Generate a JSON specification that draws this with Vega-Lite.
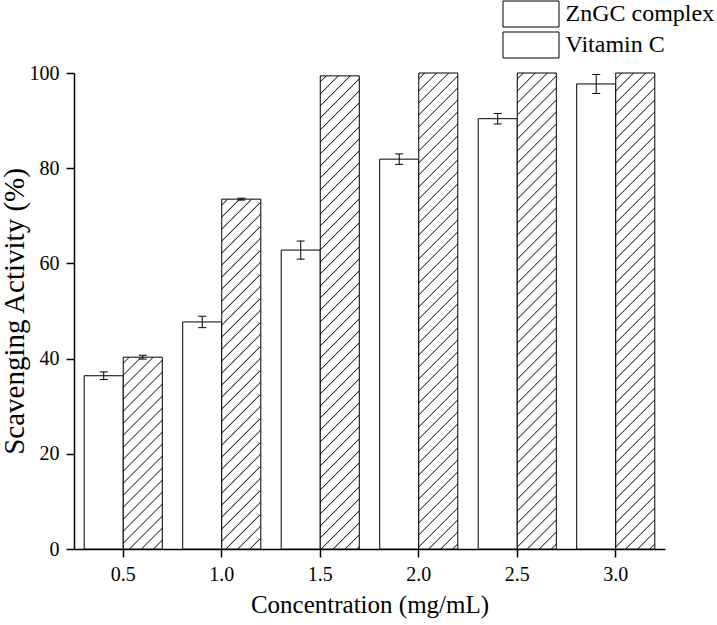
{
  "$schema": "https://vega.github.io/schema/vega-lite/v6.json",
  "autosize": "none",
  "width": 591,
  "height": 476,
  "padding": {"left": 74, "top": 73, "right": 52, "bottom": 76},
  "background": "white",
  "params": [
    {"name": "hatch", "value": [
      {"offset":0.008,"color":"#fff"},{"offset":0.01,"color":"#222"},{"offset":0.012,"color":"#fff"},
      {"offset":0.028,"color":"#fff"},{"offset":0.03,"color":"#222"},{"offset":0.032,"color":"#fff"},
      {"offset":0.048,"color":"#fff"},{"offset":0.05,"color":"#222"},{"offset":0.052,"color":"#fff"},
      {"offset":0.068,"color":"#fff"},{"offset":0.07,"color":"#222"},{"offset":0.072,"color":"#fff"},
      {"offset":0.088,"color":"#fff"},{"offset":0.09,"color":"#222"},{"offset":0.092,"color":"#fff"},
      {"offset":0.108,"color":"#fff"},{"offset":0.11,"color":"#222"},{"offset":0.112,"color":"#fff"},
      {"offset":0.128,"color":"#fff"},{"offset":0.13,"color":"#222"},{"offset":0.132,"color":"#fff"},
      {"offset":0.148,"color":"#fff"},{"offset":0.15,"color":"#222"},{"offset":0.152,"color":"#fff"},
      {"offset":0.168,"color":"#fff"},{"offset":0.17,"color":"#222"},{"offset":0.172,"color":"#fff"},
      {"offset":0.188,"color":"#fff"},{"offset":0.19,"color":"#222"},{"offset":0.192,"color":"#fff"},
      {"offset":0.208,"color":"#fff"},{"offset":0.21,"color":"#222"},{"offset":0.212,"color":"#fff"},
      {"offset":0.228,"color":"#fff"},{"offset":0.23,"color":"#222"},{"offset":0.232,"color":"#fff"},
      {"offset":0.248,"color":"#fff"},{"offset":0.25,"color":"#222"},{"offset":0.252,"color":"#fff"},
      {"offset":0.268,"color":"#fff"},{"offset":0.27,"color":"#222"},{"offset":0.272,"color":"#fff"},
      {"offset":0.288,"color":"#fff"},{"offset":0.29,"color":"#222"},{"offset":0.292,"color":"#fff"},
      {"offset":0.308,"color":"#fff"},{"offset":0.31,"color":"#222"},{"offset":0.312,"color":"#fff"},
      {"offset":0.328,"color":"#fff"},{"offset":0.33,"color":"#222"},{"offset":0.332,"color":"#fff"},
      {"offset":0.348,"color":"#fff"},{"offset":0.35,"color":"#222"},{"offset":0.352,"color":"#fff"},
      {"offset":0.368,"color":"#fff"},{"offset":0.37,"color":"#222"},{"offset":0.372,"color":"#fff"},
      {"offset":0.388,"color":"#fff"},{"offset":0.39,"color":"#222"},{"offset":0.392,"color":"#fff"},
      {"offset":0.408,"color":"#fff"},{"offset":0.41,"color":"#222"},{"offset":0.412,"color":"#fff"},
      {"offset":0.428,"color":"#fff"},{"offset":0.43,"color":"#222"},{"offset":0.432,"color":"#fff"},
      {"offset":0.448,"color":"#fff"},{"offset":0.45,"color":"#222"},{"offset":0.452,"color":"#fff"},
      {"offset":0.468,"color":"#fff"},{"offset":0.47,"color":"#222"},{"offset":0.472,"color":"#fff"},
      {"offset":0.488,"color":"#fff"},{"offset":0.49,"color":"#222"},{"offset":0.492,"color":"#fff"},
      {"offset":0.508,"color":"#fff"},{"offset":0.51,"color":"#222"},{"offset":0.512,"color":"#fff"},
      {"offset":0.528,"color":"#fff"},{"offset":0.53,"color":"#222"},{"offset":0.532,"color":"#fff"},
      {"offset":0.548,"color":"#fff"},{"offset":0.55,"color":"#222"},{"offset":0.552,"color":"#fff"},
      {"offset":0.568,"color":"#fff"},{"offset":0.57,"color":"#222"},{"offset":0.572,"color":"#fff"},
      {"offset":0.588,"color":"#fff"},{"offset":0.59,"color":"#222"},{"offset":0.592,"color":"#fff"},
      {"offset":0.608,"color":"#fff"},{"offset":0.61,"color":"#222"},{"offset":0.612,"color":"#fff"},
      {"offset":0.628,"color":"#fff"},{"offset":0.63,"color":"#222"},{"offset":0.632,"color":"#fff"},
      {"offset":0.648,"color":"#fff"},{"offset":0.65,"color":"#222"},{"offset":0.652,"color":"#fff"},
      {"offset":0.668,"color":"#fff"},{"offset":0.67,"color":"#222"},{"offset":0.672,"color":"#fff"},
      {"offset":0.688,"color":"#fff"},{"offset":0.69,"color":"#222"},{"offset":0.692,"color":"#fff"},
      {"offset":0.708,"color":"#fff"},{"offset":0.71,"color":"#222"},{"offset":0.712,"color":"#fff"},
      {"offset":0.728,"color":"#fff"},{"offset":0.73,"color":"#222"},{"offset":0.732,"color":"#fff"},
      {"offset":0.748,"color":"#fff"},{"offset":0.75,"color":"#222"},{"offset":0.752,"color":"#fff"},
      {"offset":0.768,"color":"#fff"},{"offset":0.77,"color":"#222"},{"offset":0.772,"color":"#fff"},
      {"offset":0.788,"color":"#fff"},{"offset":0.79,"color":"#222"},{"offset":0.792,"color":"#fff"},
      {"offset":0.808,"color":"#fff"},{"offset":0.81,"color":"#222"},{"offset":0.812,"color":"#fff"},
      {"offset":0.828,"color":"#fff"},{"offset":0.83,"color":"#222"},{"offset":0.832,"color":"#fff"},
      {"offset":0.848,"color":"#fff"},{"offset":0.85,"color":"#222"},{"offset":0.852,"color":"#fff"}
    ]}
  ],
  "data": {"values": [
    {"conc": "0.5", "series": "ZnGC complex", "value": 36.4, "low": 35.6, "high": 37.2},
    {"conc": "0.5", "series": "Vitamin C", "value": 40.3, "low": 39.9, "high": 40.7},
    {"conc": "1.0", "series": "ZnGC complex", "value": 47.7, "low": 46.5, "high": 48.9},
    {"conc": "1.0", "series": "Vitamin C", "value": 73.5, "low": 73.3, "high": 73.7},
    {"conc": "1.5", "series": "ZnGC complex", "value": 62.8, "low": 60.9, "high": 64.7},
    {"conc": "1.5", "series": "Vitamin C", "value": 99.4, "low": null, "high": null},
    {"conc": "2.0", "series": "ZnGC complex", "value": 81.9, "low": 80.8, "high": 83.0},
    {"conc": "2.0", "series": "Vitamin C", "value": 100, "low": null, "high": null},
    {"conc": "2.5", "series": "ZnGC complex", "value": 90.4, "low": 89.3, "high": 91.5},
    {"conc": "2.5", "series": "Vitamin C", "value": 100, "low": null, "high": null},
    {"conc": "3.0", "series": "ZnGC complex", "value": 97.7, "low": 95.7, "high": 99.7},
    {"conc": "3.0", "series": "Vitamin C", "value": 100, "low": null, "high": null}
  ]},
  "encoding": {
    "x": {
      "field": "conc", "type": "ordinal",
      "scale": {"type": "band", "paddingInner": 0.207, "paddingOuter": 0.1035},
      "axis": {"title": "Concentration (mg/mL)", "labelAngle": 0, "labelPadding": 7, "titlePadding": 8}
    },
    "xOffset": {
      "field": "series", "type": "nominal",
      "scale": {"domain": ["ZnGC complex", "Vitamin C"], "paddingInner": 0, "paddingOuter": 0}
    }
  },
  "layer": [
    {
      "mark": {"type": "bar", "strokeWidth": 1},
      "encoding": {
        "y": {
          "field": "value", "type": "quantitative", "stack": null,
          "scale": {"domain": [0, 100], "nice": false},
          "axis": {"title": "Scavenging Activity (%)", "values": [0, 20, 40, 60, 80, 100], "labelPadding": 7, "titlePadding": 0, "titleFontSize": 29}
        },
        "stroke": {
          "field": "series", "type": "nominal",
          "scale": {"domain": ["ZnGC complex", "Vitamin C"], "range": ["black", "black"]},
          "legend": {
            "title": null,
            "orient": "none",
            "legendX": 428.5,
            "legendY": -72.5,
            "padding": 0,
            "symbolType": "M-2.154,-1H2.154V1H-2.154Z",
            "symbolSize": 676,
            "symbolOffset": 15,
            "symbolStrokeWidth": 1,
            "symbolOpacity": 1,
            "labelFont": "Liberation Serif",
            "labelFontSize": 24,
            "labelColor": "black",
            "labelLimit": 0,
            "labelOffset": 21,
            "rowPadding": 0
          }
        },
        "fill": {
          "condition": {
            "test": "datum.series === 'Vitamin C' || datum.value === 'Vitamin C'",
            "value": {"expr": "datum.value === 'ZnGC complex' ? 'white' : isString(datum.value) ? {gradient: 'linear', x1: 0, y1: 0, x2: 8.8143, y2: 4.0923, stops: hatch} : {gradient: 'linear', x1: 0, y1: 0, x2: 600*bandwidth('xOffset')/(pow(bandwidth('xOffset'),2)+pow(scale('y',0)-scale('y',datum.value),2)), y2: 600*(scale('y',0)-scale('y',datum.value))/(pow(bandwidth('xOffset'),2)+pow(scale('y',0)-scale('y',datum.value),2)), stops: hatch}"}
          },
          "value": "white"
        }
      }
    },
    {
      "transform": [{"filter": "isValid(datum.low)"}],
      "mark": {"type": "rule", "color": "black", "strokeWidth": 1},
      "encoding": {
        "y": {"field": "low", "type": "quantitative"},
        "y2": {"field": "high"}
      }
    },
    {
      "transform": [{"filter": "isValid(datum.low)"}],
      "mark": {"type": "tick", "orient": "horizontal", "color": "black", "size": 8, "thickness": 1, "opacity": 1},
      "encoding": {"y": {"field": "low", "type": "quantitative"}}
    },
    {
      "transform": [{"filter": "isValid(datum.low)"}],
      "mark": {"type": "tick", "orient": "horizontal", "color": "black", "size": 8, "thickness": 1, "opacity": 1},
      "encoding": {"y": {"field": "high", "type": "quantitative"}}
    }
  ],
  "config": {
    "view": {"stroke": null},
    "font": "Liberation Serif",
    "legend": {"labelFont": "Liberation Serif", "labelFontSize": 24, "labelColor": "black", "labelLimit": 0},
    "axis": {
      "domainColor": "black", "domainWidth": 1.5,
      "tickColor": "black", "tickWidth": 1.5, "tickSize": 8,
      "labelFont": "Liberation Serif", "labelFontSize": 20, "labelColor": "black",
      "titleFont": "Liberation Serif", "titleFontSize": 25, "titleFontWeight": "normal", "titleColor": "black",
      "grid": false
    }
  }
}
